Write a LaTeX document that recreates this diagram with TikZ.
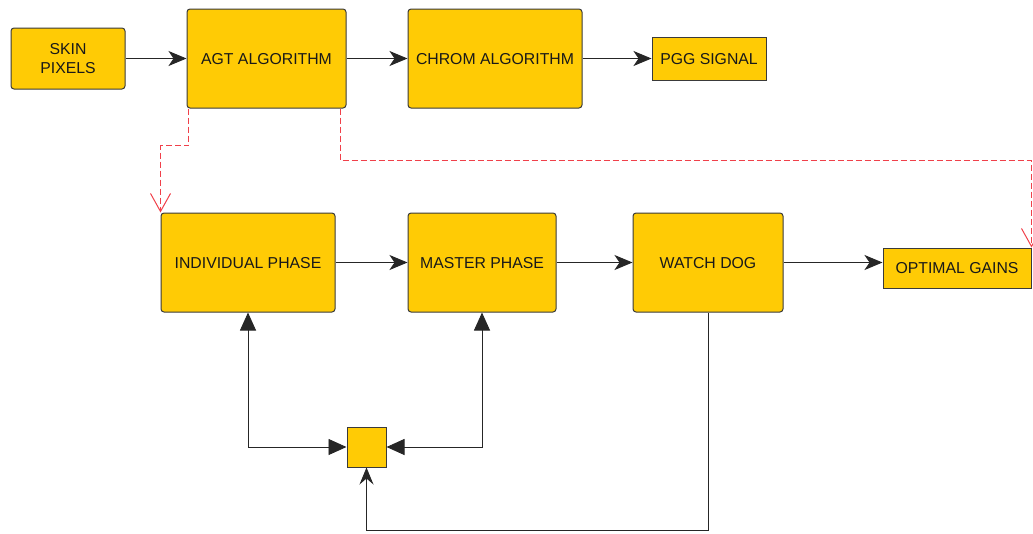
\documentclass[tikz,border=0pt]{standalone}
\usepackage{fontspec}
\setmainfont{Liberation Sans}
\usetikzlibrary{arrows.meta}
\definecolor{boxfill}{HTML}{FFCB05}
\definecolor{boxline}{HTML}{3A3A3A}
\definecolor{linkred}{HTML}{F0404A}
\tikzset{
  blk/.style={draw=boxline, fill=boxfill, line width=1pt, rounded corners=3pt,
    align=center, inner sep=0pt, text=black!90, text depth=0pt,
    font=\fontsize{15.8}{19.5}\selectfont},
  sharpblk/.style={blk, rounded corners=0pt},
  flow/.style={draw=black!85, line width=0.9pt, -{Stealth[length=18pt,width=15pt,inset=5pt]}},
  both/.style={draw=black!85, line width=0.9pt, {Triangle[length=18pt,width=16pt]}-{Triangle[length=18pt,width=16pt]}},
  feed/.style={draw=black!85, line width=0.9pt, -{Stealth[length=17pt,width=14pt,inset=6pt]}},
  dashlink/.style={draw=linkred, line width=1pt, dash pattern=on 6pt off 3pt,
    -{Straight Barb[length=18pt,width=20pt,line width=1pt]}}
}
\begin{document}
\begin{tikzpicture}[x=1pt,y=-1pt]
\useasboundingbox (0,0) rectangle (1033,533);
% top row
\node[blk, minimum width=114pt, minimum height=61pt] (skin) at (68,58.5) {SKIN\\PIXELS};
\node[blk, minimum width=159pt, minimum height=99pt] (agt) at (266.5,58.5) {AGT ALGORITHM};
\node[blk, minimum width=174pt, minimum height=99pt] (chrom) at (495,58.5) {CHROM ALGORITHM};
\node[sharpblk, minimum width=114pt, minimum height=43pt] (pgg) at (709,58.5) {PGG SIGNAL};
% middle row
\node[blk, minimum width=174pt, minimum height=99pt] (ind) at (248,262.5) {INDIVIDUAL PHASE};
\node[blk, minimum width=148pt, minimum height=99pt] (mas) at (482,262.5) {MASTER PHASE};
\node[blk, minimum width=150pt, minimum height=99pt] (wd) at (708,262.5) {WATCH DOG};
\node[sharpblk, minimum width=148pt, minimum height=40pt] (opt) at (957,268) {OPTIMAL GAINS};
% junction block
\node[sharpblk, minimum width=39pt, minimum height=40pt] (sq) at (366.5,447) {};
% forward flow
\draw[flow] (skin.east) -- (agt.west);
\draw[flow] (agt.east) -- (chrom.west);
\draw[flow] (chrom.east) -- (pgg.west);
\draw[flow] (ind.east) -- (mas.west);
\draw[flow] (mas.east) -- (wd.west);
\draw[flow] (wd.east) -- (wd.east -| opt.west);
% dashed links from the AGT block
\draw[dashlink] ([xshift=2pt]agt.south west) -- ++(0,37) -| (ind.north west);
\draw[dashlink] ([xshift=-6pt]agt.south east) -- ++(0,52) -| (opt.north east);
% exchange with the junction block
\draw[both] (ind.south) |- (sq.west);
\draw[both] (mas.south) |- (sq.east);
\draw[feed] (wd.south) -- ++(0,218) -| (sq.south);
\end{tikzpicture}
\end{document}
